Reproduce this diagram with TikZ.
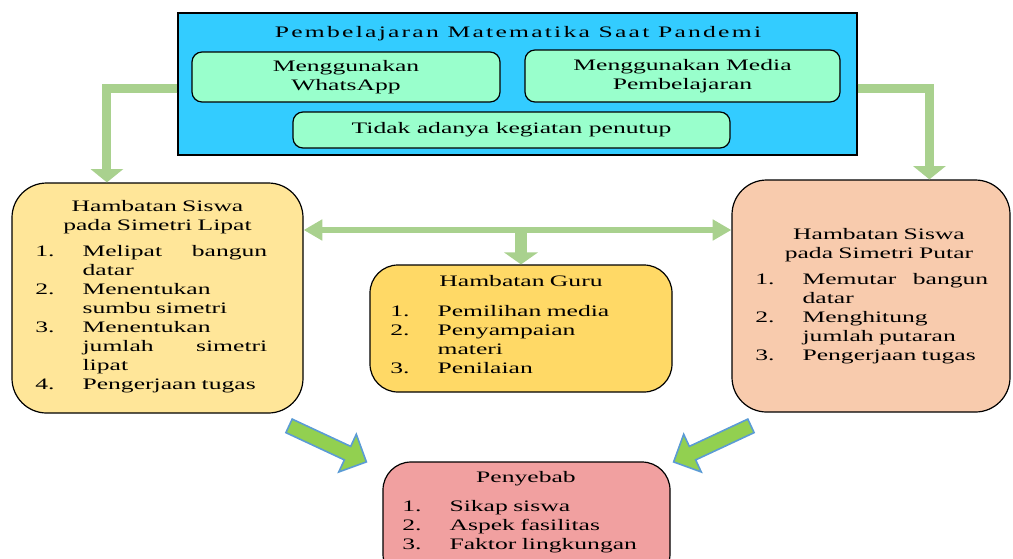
\documentclass[tikz,border=0pt]{standalone}
\usepackage{fontspec}
\setmainfont[FakeStretch=1.6]{Liberation Serif}
\usetikzlibrary{arrows.meta,calc,shapes.arrows}

\definecolor{topblue}{RGB}{51,204,255}
\definecolor{mint}{RGB}{153,255,204}
\definecolor{lipatyel}{RGB}{255,230,153}
\definecolor{putarpch}{RGB}{248,203,173}
\definecolor{guruyel}{RGB}{255,217,102}
\definecolor{sebabpink}{RGB}{241,160,160}
\definecolor{lgreen}{RGB}{169,209,142}
\definecolor{bgreen}{RGB}{146,208,80}
\definecolor{bblue}{RGB}{91,155,213}

% numbered line with hanging indent
\newcommand{\itm}[2]{\noindent\hangindent=35.5pt\hangafter=1\makebox[35.5pt][l]{#1}#2\par}

\begin{document}
\begin{tikzpicture}[x=0.75pt,y=-0.75pt,
	every node/.style={font=\fontsize{12}{14.25}\selectfont, inner sep=0pt},
	box/.style={draw=black, line width=0.9pt, rounded corners=#1},
	box/.default=7.5pt,
	txt/.style={anchor=base, align=center, text width=#1},
	lst/.style={anchor=base west, align=left, text width=#1},
	tarrow/.style={draw=lgreen, line width=6.75pt, -{Triangle[width=24pt,length=10pt]}},
	darrow/.style={draw=lgreen, line width=5pt, {Triangle[width=15pt,length=14pt]}-{Triangle[width=15pt,length=14pt]}},
	barrow/.style={single arrow, draw=bblue, line width=1.2pt, fill=bgreen, minimum height=64pt, inner xsep=0pt, inner ysep=5pt, single arrow head extend=10pt}]
	\useasboundingbox (0,0) rectangle (1013,558);
	\clip (0,0) rectangle (1013,558);

	% top
	\node[draw, line width=1pt, fill=topblue, minimum width=509.25pt, minimum height=106.5pt] (top) at (517.5,84) {};
	\node[anchor=base] (toptitle) at (518,37) {\addfontfeatures{LetterSpace=14}Pembelajaran Matematika Saat Pandemi};
	\node[box, fill=mint, minimum width=231pt, minimum height=37.5pt, align=center] (wa) at (346,77) {Menggunakan\\WhatsApp};
	\node[box, fill=mint, minimum width=236.25pt, minimum height=39pt, align=center] (media) at (682.5,76) {Menggunakan Media\\Pembelajaran};
	\node[box, fill=mint, minimum width=327.75pt, minimum height=27pt] (tidak) at (511.5,130) {Tidak adanya kegiatan penutup};

	% simetri lipat
	\node[box=26pt, fill=lipatyel, minimum width=218.25pt, minimum height=172.5pt] (lipat) at (157.5,298) {};
	\node[txt=200pt] (lipathd) at (157.5,211) {Hambatan Siswa\\pada Simetri Lipat};
	\node[lst=174pt] (lipatlist) at (35,256) {%
		\itm{1.}{Melipat\hfill bangun\newline datar}%
		\itm{2.}{Menentukan\newline sumbu simetri}%
		\itm{3.}{Menentukan\newline jumlah\hfill simetri\newline lipat}%
		\itm{4.}{Pengerjaan tugas}};

	% simetri putar
	\node[box=26pt, fill=putarpch, minimum width=208.5pt, minimum height=174pt] (putar) at (871,296) {};
	\node[txt=200pt] (putarhd) at (879,239) {Hambatan Siswa\\pada Simetri Putar};
	\node[lst=174.75pt] (putarlist) at (755,284) {%
		\itm{1.}{Memutar\hfill bangun\newline datar}%
		\itm{2.}{Menghitung\newline jumlah putaran}%
		\itm{3.}{Pengerjaan tugas}};

	% guru
	\node[box=21pt, fill=guruyel, minimum width=226.5pt, minimum height=95.25pt] (guru) at (521,328.5) {};
	\node[txt=200pt] (guruhd) at (521,286) {Hambatan Guru};
	\node[lst=200pt] (gurulist) at (390,316) {%
		\itm{1.}{Pemilihan media}%
		\itm{2.}{Penyampaian\newline materi}%
		\itm{3.}{Penilaian}};

	% penyebab
	\node[box=21pt, fill=sebabpink, minimum width=215.25pt, minimum height=90pt] (sebab) at (526.5,522) {};
	\node[txt=200pt] (sebabhd) at (526,482) {Penyebab};
	\node[lst=200pt] (sebablist) at (402,511) {%
		\itm{1.}{Sikap siswa}%
		\itm{2.}{Aspek fasilitas}%
		\itm{3.}{Faktor lingkungan}};

	% arrows
	\draw[tarrow] ($(top.west)+(0,4.5)$) -| ($(lipat.north west)+(95.5,0)$);
	\draw[tarrow] ($(top.east)+(0,4.5)$) -| ($(putar.north west)+(198,0)$);
	\coordinate (mid) at ($(lipat.east)+(0,-68)$);
	\draw[darrow] (mid) -- (mid -| putar.west);
	\draw[draw=lgreen, line width=9pt, -{Triangle[width=25pt,length=9pt]}] (mid -| guru.north) -- (guru.north);
	\node[barrow, rotate=-25, anchor=tip] (bl) at ($(sebab.north west)+(-15,1)$) {};
	\node[barrow, rotate=205, anchor=tip] (br) at ($(sebab.north east)+(2,1)$) {};
\end{tikzpicture}
\end{document}
